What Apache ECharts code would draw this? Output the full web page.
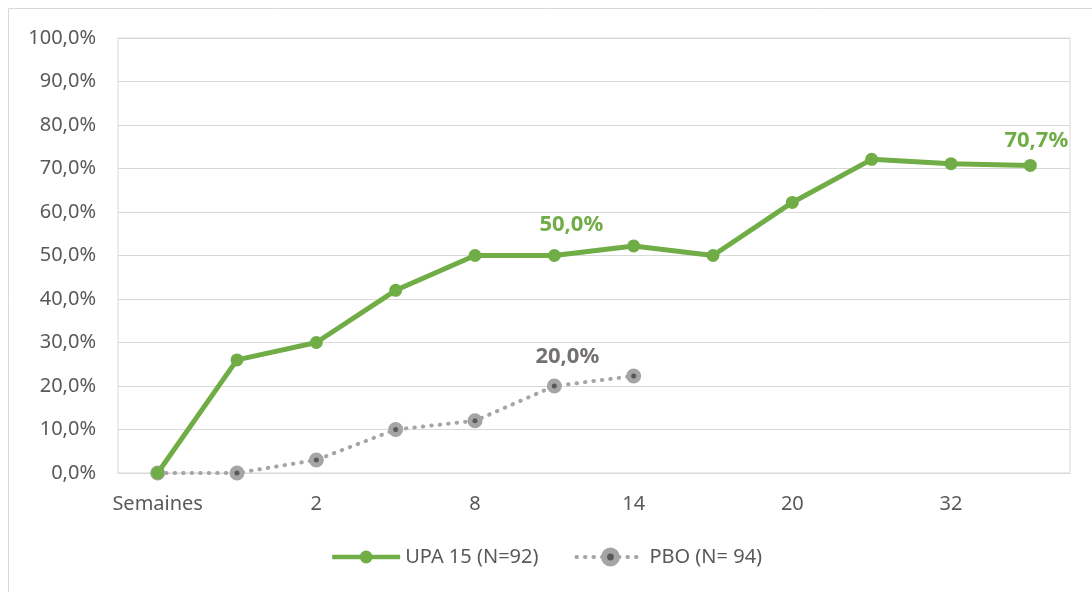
<!DOCTYPE html>
<html>
<head>
<meta charset="utf-8">
<script src="https://cdn.jsdelivr.net/npm/echarts@6/dist/echarts.min.js"></script>
<style>
  html, body { margin: 0; padding: 0; background: #fff; }
  #chart { width: 1092px; height: 592px; }
</style>
</head>
<body>
<div id="chart"></div>
<script>
  // axe des x : une étiquette sur deux est affichée
  var weeks = ['Semaines', '', '2', '', '8', '', '14', '', '20', '', '32', '']
  var upaValues = [0, 26, 30, 42, 50, 50, 52.2, 50, 62.2, 72.1, 71.1, 70.7]
  var pboValues = [0, 0, 3, 10, 12, 20, 22.3, null, null, null, null, null]
  var upaLabelIdx = [5, 11]
  var pboLabelIdx = [5]
  var yTicks = [0, 10, 20, 30, 40, 50, 60, 70, 80, 90, 100]

  var green = '#70ad47'
  var grey = '#a5a5a5'
  var fontName = 'Noto Sans'

  function pct(v) {
    return v.toFixed(1).replace('.', ',') + '%'
  }

  var myChart = echarts.init(document.getElementById('chart'))
  myChart.setOption({
    animation: false,
    textStyle: { fontFamily: fontName },
    graphic: [{
      type: 'rect',
      shape: { x: 8.5, y: 8.5, width: 1100, height: 600 },
      style: { fill: 'none', stroke: '#d9d9d9', lineWidth: 1 }
    }],
    grid: {
      left: 118, right: 22, top: 38, bottom: 119,
      show: true, borderColor: '#d9d9d9', borderWidth: 1
    },
    legend: {
      bottom: 20,
      left: 'center',
      itemWidth: 68,
      itemHeight: 16,
      itemGap: 36,
      textStyle: { fontSize: 20, color: '#595959', fontFamily: fontName },
      data: [
        { name: 'UPA 15 (N=92)', lineStyle: { width: 4.5, color: green } },
        {
          name: 'PBO (N= 94)',
          lineStyle: { width: 4, color: grey, type: [0.5, 8], cap: 'round' },
          itemStyle: { color: '#595959', borderColor: grey, borderWidth: 6 }
        }
      ]
    },
    xAxis: {
      type: 'category',
      data: weeks,
      boundaryGap: true,
      axisLine: { lineStyle: { color: '#d9d9d9', width: 1 } },
      axisTick: { show: false },
      axisLabel: { interval: 0, margin: 21, fontSize: 20, color: '#595959', fontFamily: fontName }
    },
    yAxis: {
      type: 'value',
      min: yTicks[0],
      max: yTicks[yTicks.length - 1],
      interval: 10,
      axisLine: { show: false },
      axisTick: { show: false },
      splitLine: { lineStyle: { color: '#d9d9d9', width: 1 } },
      axisLabel: {
        margin: 22, fontSize: 20, color: '#595959', fontFamily: fontName,
        formatter: function (v) { return pct(v) }
      }
    },
    series: [
      {
        name: 'UPA 15 (N=92)',
        type: 'line',
        data: upaValues.map(function (v, i) {
          var item = { value: v }
          if (upaLabelIdx.indexOf(i) >= 0) {
            item.label = {
              show: true,
              position: 'top',
              offset: i === 11 ? [6, -2] : [17, -8],
              formatter: pct(i === 11 ? 70.7 : v),
              fontSize: 22, fontWeight: 'bold', color: green, fontFamily: fontName
            }
          }
          return item
        }),
        symbol: 'circle',
        symbolSize: 13,
        itemStyle: { color: green },
        lineStyle: { color: green, width: 5 },
        z: 3
      },
      {
        name: 'PBO (N= 94)',
        type: 'line',
        data: pboValues.map(function (v, i) {
          var item = { value: v }
          if (pboLabelIdx.indexOf(i) >= 0) {
            item.label = {
              show: true,
              position: 'top',
              offset: [13, -6],
              formatter: pct(v),
              fontSize: 22, fontWeight: 'bold', color: '#767171', fontFamily: fontName
            }
          }
          return item
        }),
        symbol: 'circle',
        symbolSize: 10,
        itemStyle: { color: '#595959', borderColor: grey, borderWidth: 5 },
        lineStyle: { color: grey, width: 4, type: [0.5, 8], cap: 'round' },
        z: 2
      }
    ]
  })
</script>
</body>
</html>
